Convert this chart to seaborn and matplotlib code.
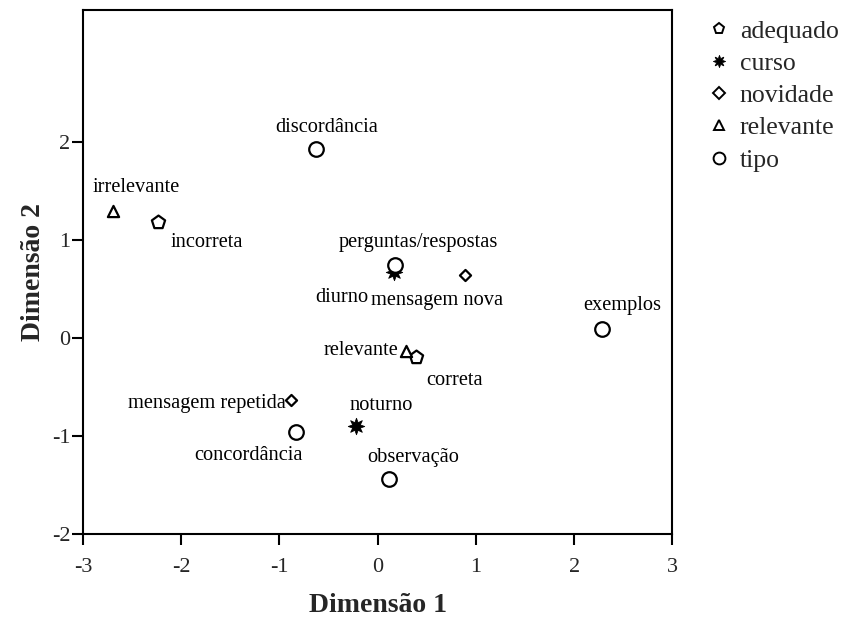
"""Joint category plot (Dimensão 1 x Dimensão 2) recreated with seaborn."""

import matplotlib

matplotlib.use("Agg")
import matplotlib.pyplot as plt
import pandas as pd
import seaborn as sns
from matplotlib.lines import Line2D

# category points
labels = [
    "discordância", "irrelevante", "incorreta", "perguntas/respostas", "diurno",
    "mensagem nova", "exemplos", "relevante", "correta", "mensagem repetida",
    "concordância", "noturno", "observação",
]
groups = [
    "tipo", "relevante", "adequado", "tipo", "curso",
    "novidade", "tipo", "relevante", "adequado", "novidade",
    "tipo", "curso", "tipo",
]
dim1 = [-0.63, -2.69, -2.24, 0.18, 0.17, 0.89, 2.28, 0.29, 0.39, -0.88, -0.83, -0.22, 0.12]
dim2 = [1.93, 1.30, 1.19, 0.745, 0.67, 0.64, 0.09, -0.13, -0.19, -0.63, -0.96, -0.90, -1.44]

legend_order = ["adequado", "curso", "novidade", "relevante", "tipo"]
x_ticks = [-3, -2, -1, 0, 1, 2, 3]
y_ticks = [-2, -1, 0, 1, 2]

df = pd.DataFrame({"label": labels, "group": groups, "dim1": dim1, "dim2": dim2})

# marker style per group: (marker, size, filled)
styles = {
    "adequado": ("p", 100, False),
    "curso": ((8, 1, 0), 140, True),
    "novidade": ("D", 32, False),
    "relevante": ("^", 65, False),
    "tipo": ("o", 110, False),
}

# label offsets in pixels (dx, dy, horizontal alignment)
offsets = {
    "discordância": (11, 22, "center"),
    "irrelevante": (23, 23, "center"),
    "incorreta": (49, -21, "center"),
    "perguntas/respostas": (23, 23, "center"),
    "diurno": (-53, -25, "center"),
    "mensagem nova": (-28, -25, "center"),
    "exemplos": (21, 24, "center"),
    "relevante": (-8, 0, "right"),
    "correta": (39, -24, "center"),
    "mensagem repetida": (-5, -4, "right"),
    "concordância": (-48, -23, "center"),
    "noturno": (25, 21, "center"),
    "observação": (24, 22, "center"),
}

sns.set_theme(style="white")
plt.rcParams["font.family"] = ["Liberation Serif", "DejaVu Serif"]
plt.rcParams["font.size"] = 14.5

fig = plt.figure(figsize=(8.51, 6.22), dpi=100)
ax = fig.add_axes([0.0975, 0.1415, 0.6925, 0.8425])

for group in legend_order:
    marker, size, filled = styles[group]
    sub = df[df["group"] == group]
    sns.scatterplot(
        data=sub,
        x="dim1",
        y="dim2",
        marker=marker,
        s=size,
        facecolor="black" if filled else "white",
        edgecolor="black",
        linewidth=1.6 if not filled else 0.6,
        ax=ax,
        zorder=3,
        legend=False,
    )

for row in df.itertuples(index=False):
    dx, dy, ha = offsets[row.label]
    ax.annotate(
        row.label,
        (row.dim1, row.dim2),
        xytext=(dx, dy),
        textcoords="offset pixels",
        ha=ha,
        va="center",
        fontsize=14.7,
        color="black",
    )

ax.set_xlim(-3, 3)
ax.set_ylim(-2, 3.35)
ax.set_xticks(x_ticks)
ax.set_yticks(y_ticks)
ax.set_xticklabels([str(t) for t in x_ticks], fontsize=16)
ax.set_yticklabels([str(t) for t in y_ticks], fontsize=16)
ax.tick_params(axis="both", which="both", direction="out", length=8, width=1.5,
               color="black", bottom=True, left=True, pad=1)
ax.tick_params(axis="x", pad=9)
for spine in ax.spines.values():
    spine.set_color("black")
    spine.set_linewidth(1.5)

ax.set_xlabel("Dimensão 1", fontsize=20, fontweight="bold", labelpad=12)
ax.set_ylabel("Dimensão 2", fontsize=20, fontweight="bold", labelpad=4)

# legend handles built separately so the plotted markers keep their size
legend_sizes = {"adequado": 8, "curso": 9, "novidade": 6.5, "relevante": 7.5, "tipo": 8.5}
handles = []
for group in legend_order:
    marker, _, filled = styles[group]
    handles.append(
        Line2D(
            [], [], linestyle="none", marker=marker,
            markersize=legend_sizes[group],
            markerfacecolor="black" if filled else "white",
            markeredgecolor="black",
            markeredgewidth=1.4 if not filled else 0.5,
        )
    )
ax.legend(
    handles,
    legend_order,
    loc="upper left",
    bbox_to_anchor=(0.821, 0.985),
    bbox_transform=fig.transFigure,
    frameon=False,
    fontsize=18.5,
    handlelength=0.8,
    handletextpad=0.4,
    labelspacing=0.36,
    borderaxespad=0,
)

fig.savefig("out.png", dpi=100)
